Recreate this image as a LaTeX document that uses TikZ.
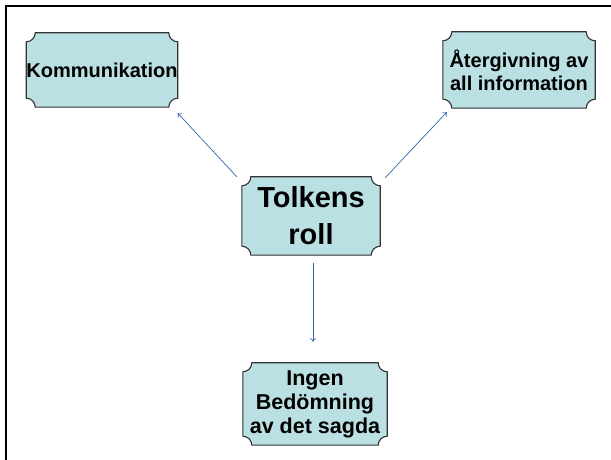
\documentclass[tikz,border=0pt]{standalone}
\usepackage{fontspec}
\setmainfont{Liberation Sans}
\usetikzlibrary{arrows.meta,backgrounds}
\definecolor{boxfill}{RGB}{187,224,227}
\definecolor{linkblue}{RGB}{46,104,178}
\newcommand{\plaque}[1]{\draw[line width=1.1pt,draw=black!80,fill=boxfill]
	([xshift=9pt]#1.north west) -- ([xshift=-9pt]#1.north east)
	arc[start angle=180,end angle=270,radius=9pt] -- ([yshift=9pt]#1.south east)
	arc[start angle=90,end angle=180,radius=9pt] -- ([xshift=9pt]#1.south west)
	arc[start angle=0,end angle=90,radius=9pt] -- ([yshift=-9pt]#1.north west)
	arc[start angle=270,end angle=360,radius=9pt] -- cycle;}

\begin{document}
\begin{tikzpicture}[x=1pt,y=1pt,
		box/.style={align=center,inner sep=0pt,font=\bfseries\fontsize{20}{23}\selectfont},
		link/.style={draw=linkblue,line width=0.7pt,-{To[length=3.5pt,width=6pt]}}]
	\useasboundingbox (0,0) rectangle (611,460);
	\draw[line width=2pt] (611,454) -- (6,454) -- (6,0);
	\node[box,minimum width=150pt,minimum height=74pt] (komm) at (102,390) {Kommunikation};
	\node[box,minimum width=138pt,minimum height=78pt,font=\bfseries\fontsize{29}{37}\selectfont] (tolk) at (311,244) {Tolkens\\roll};
	\node[box,minimum width=152pt,minimum height=76pt] (ater) at (519,390) {Återgivning av\\all information};
	\node[box,minimum width=144pt,minimum height=82pt,font=\bfseries\fontsize{21.5}{24}\selectfont] (ingen) at (315,56) {Ingen\\Bedömning\\av det sagda};
	\begin{scope}[on background layer]
		\foreach \n in {komm,tolk,ater,ingen} {\plaque{\n}}
	\end{scope}
	\draw[link] ([xshift=-5pt]tolk.north west) -- ([yshift=-6pt]komm.south east);
	\draw[link] ([xshift=5pt,yshift=-1pt]tolk.north east) -- ([xshift=4pt,yshift=-4pt]ater.south west);
	\draw[link] ([xshift=2pt,yshift=-8pt]tolk.south) -- ([xshift=-2pt,yshift=21pt]ingen.north);
\end{tikzpicture}
\end{document}
